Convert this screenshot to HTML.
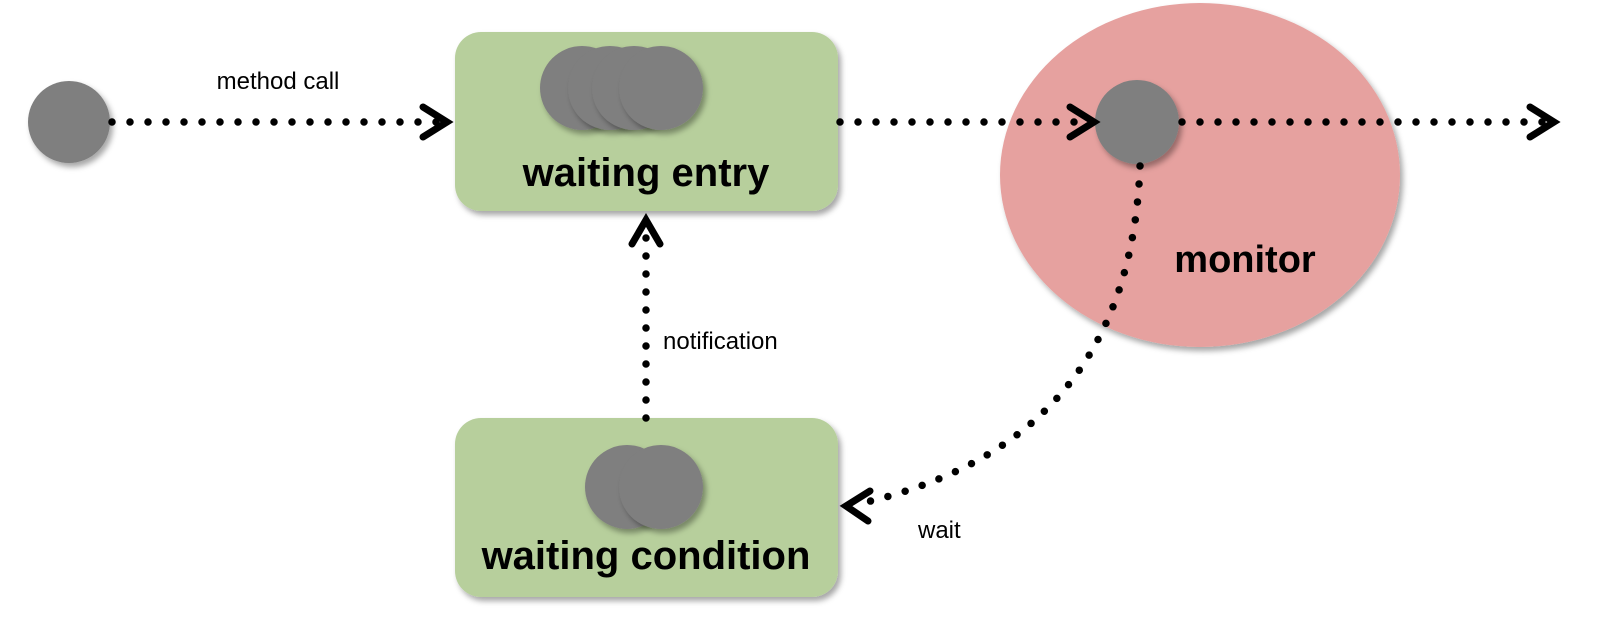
<!DOCTYPE html>
<html><head><meta charset="utf-8"><style>
html,body{margin:0;padding:0;background:#fff;}
svg{display:block;}
text{font-family:"Liberation Sans",sans-serif;}
</style></head><body>
<svg width="1610" height="639" viewBox="0 0 1610 639" xmlns="http://www.w3.org/2000/svg">
<defs>
<filter id="sh" x="-20%" y="-20%" width="140%" height="140%">
<feDropShadow dx="3" dy="4" stdDeviation="3" flood-color="#000" flood-opacity="0.35"/>
</filter>
</defs>
<ellipse cx="1200" cy="175" rx="200" ry="172" fill="#e6a19f" filter="url(#sh)"/>
<rect x="455" y="32" width="383" height="179" rx="26" fill="#b7cf9c" filter="url(#sh)"/>
<rect x="455" y="418" width="383" height="179" rx="26" fill="#b7cf9c" filter="url(#sh)"/>
<circle cx="69" cy="122" r="41" fill="#7f7f7f" filter="url(#sh)"/>
<g fill="#7f7f7f">
<circle cx="582" cy="88" r="42" filter="url(#sh)"/><circle cx="610" cy="88" r="42" filter="url(#sh)"/><circle cx="634" cy="88" r="42" filter="url(#sh)"/><circle cx="661" cy="88" r="42" filter="url(#sh)"/>
<circle cx="627" cy="487" r="42" filter="url(#sh)"/><circle cx="661" cy="487" r="42" filter="url(#sh)"/>
<circle cx="1137" cy="122" r="42" filter="url(#sh)"/>
</g>
<text x="646" y="186" text-anchor="middle" font-size="40" font-weight="bold" fill="#000">waiting entry</text>
<text x="646" y="569" text-anchor="middle" font-size="40" font-weight="bold" fill="#000">waiting condition</text>
<text x="1245" y="272" text-anchor="middle" font-size="38" font-weight="bold" fill="#000">monitor</text>
<text x="278" y="89" text-anchor="middle" font-size="24" fill="#000">method call</text>
<text x="663" y="349" font-size="24" fill="#000">notification</text>
<text x="918" y="538" font-size="24" fill="#000">wait</text>
<g stroke="#000" stroke-width="7.5" stroke-linecap="round" fill="none" stroke-dasharray="0 18">
<path d="M112 122 H440"/>
<path d="M840 122 H1085"/>
<path d="M1182 122 H1545"/>
<path d="M646 418 V228"/>
<path d="M1140 166 C1132 380 1010 470 858 504"/>
</g>
<g stroke="#000" stroke-width="7" stroke-linecap="round" stroke-linejoin="miter" fill="none">
<path d="M423 107 L447 122 L423 137"/>
<path d="M1070 107 L1094 122 L1070 137"/>
<path d="M1530 107 L1554 122 L1530 137"/>
<path d="M632 244 L646 220 L660 244"/>
<path d="M870 491 L846 506 L868 521"/>
</g>
</svg>
</body></html>
